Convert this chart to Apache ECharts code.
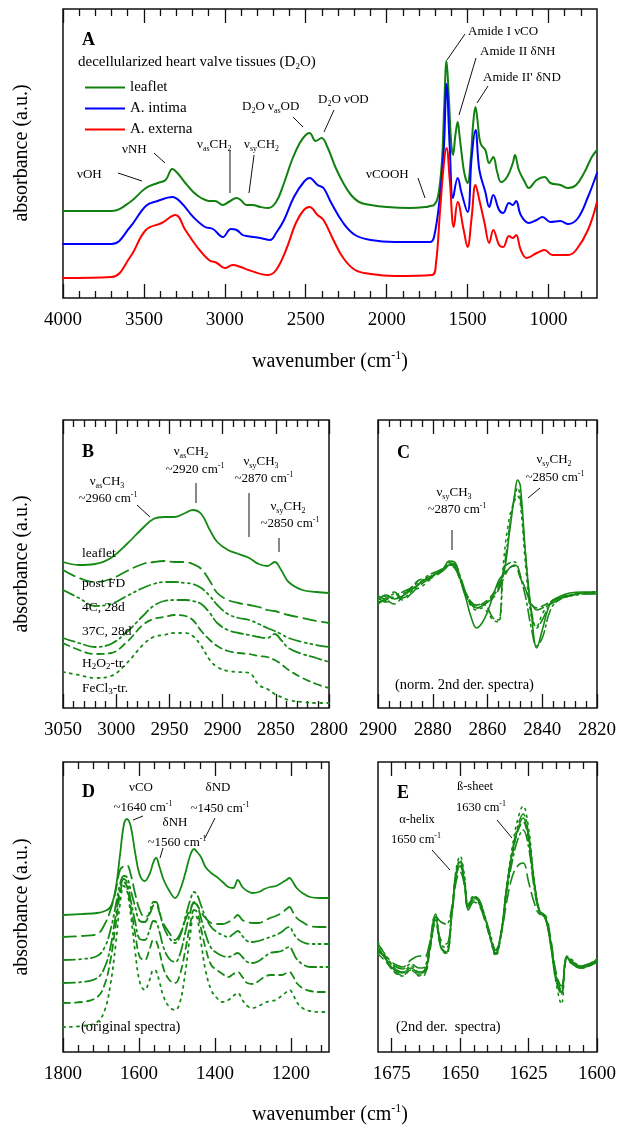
<!DOCTYPE html>
<html>
<head>
<meta charset="utf-8">
<script src="https://cdn.jsdelivr.net/npm/echarts@6/dist/echarts.min.js"></script>
<style>
  html, body { margin: 0; padding: 0; background: #fff; }
  #chart { width: 618px; height: 1128px; }
</style>
</head>
<body>
<div id="chart"></div>
<script>
var FONT = '"Liberation Serif", "Times New Roman", serif';
var GREEN = '#148a14';

// ---- panel A: whole spectra (absorbance, a.u., offset) ----
var wnLeafletA = [4000,3700,3585,3488,3415,3366,3324,3293,3244,3195,3146,3098,3061,3012,2976,2927,2902,2866,2829,2780,2732,2683,2634,2585,2537,2500,2476,2439,2402,2366,2317,2268,2220,2171,2098,2000,1854,1756,1732,1707,1683,1659,1645,1630,1615,1600,1590,1575,1561,1550,1537,1520,1500,1480,1465,1451,1440,1427,1415,1390,1366,1341,1317,1293,1256,1220,1207,1183,1146,1122,1073,1024,988,927,878,829,780,732,700];
var absLeafletA = [87,87,96,110,115,118,129,125,115,106,100,97,97,93,96,100,98,93,93,91,90,96,115,138,155,163,165,157,160,151,131,115,103,96,93,91,90,91,92,93,101,135,188,237,198,153,143,163,176,163,145,125,115,140,175,191,180,160,153,148,135,141,126,116,121,135,143,128,116,110,118,121,115,113,110,113,125,141,148];

var wnIntimaA = [4000,3700,3585,3488,3415,3324,3268,3195,3122,3073,3012,2963,2927,2890,2866,2780,2720,2683,2634,2573,2512,2476,2427,2390,2342,2268,2195,2098,1951,1732,1707,1671,1646,1630,1610,1590,1561,1537,1500,1475,1451,1427,1390,1366,1341,1305,1280,1244,1220,1200,1171,1122,1073,1037,988,927,878,817,756,700];
var absIntimaA = [54,54,71,92,97,101,95,81,71,69,61,69,68,63,62,60,58,65,78,101,116,120,113,110,95,75,63,58,56,56,61,101,151,214,151,100,120,105,86,140,168,128,106,91,103,88,85,95,93,97,83,75,78,81,76,77,74,80,101,125];

var wnExternaA = [4000,3700,3585,3488,3390,3305,3244,3171,3098,3049,3000,2951,2902,2854,2732,2683,2622,2561,2512,2476,2427,2390,2329,2268,2195,2098,1951,1720,1695,1671,1646,1630,1610,1585,1561,1524,1500,1475,1451,1427,1395,1366,1341,1305,1280,1244,1220,1200,1171,1134,1073,1024,976,878,829,756,700];
var absExternaA = [20,21,41,68,75,83,68,51,38,35,30,33,31,28,23,28,48,75,88,91,83,78,58,40,28,24,22,23,35,85,135,150,118,71,96,68,51,80,113,98,75,55,68,53,51,62,60,63,48,40,45,48,43,43,48,68,96];

// ---- panel B: CH stretching region ----
var wnB = [3050,3035,3020,3005,2990,2975,2965,2955,2945,2935,2928,2920,2912,2905,2895,2885,2875,2866,2858,2851,2845,2838,2825,2812,2800];
var leafletB = [146,143,144,150,164,180,189,191,191,195,198,194,178,166,158,154,150,144,142,146,138,126,118,116,115];
var postFdB  = [138,130,126,129,137,144,146,147,146,146,144,139,127,115,108,105,103,101,98,97,95,93,90,87,85];
var c4B      = [118,110,102,104,112,120,124,126,126,125,124,120,112,103,94,90,88,84,80,77,74,70,66,63,61];
var c37B     = [70,65,61,64,76,92,102,107,108,108,107,104,95,85,78,75,73,71,70,74,68,60,54,50,46];
var h2o2B    = [65,58,54,55,66,83,89,91,93,92,88,77,68,62,57,55,54,52,51,48,44,38,30,24,20];
var fecl3B   = [36,33,30,32,45,63,71,73,75,75,72,62,48,41,37,36,35,23,19,14,11,8,6,5,5];

// ---- panel C: normalised 2nd derivative, CH region ----
var wnC = [2900,2897,2894,2891,2888,2885,2882,2879,2876,2874,2872,2870,2868,2866,2864,2862,2860,2858,2856,2854,2852,2850,2849,2848,2846,2844,2842,2840,2837,2834,2830,2825,2820];
var leafletC = [108,113,109,112,118,124,130,134,140,147,146,130,111,91,80,85,96,112,127,136,175,215,228,222,150,95,60,78,105,111,115,116,116];
var postFdC  = [104,110,116,108,114,122,128,132,138,142,140,128,112,104,100,102,106,110,118,130,140,142,138,130,118,106,98,100,104,108,112,114,114];
var c4C      = [110,106,112,116,120,126,128,134,138,144,142,128,114,104,100,102,106,112,120,140,180,212,220,210,150,98,80,88,104,110,112,114,115];
var c37C     = [106,108,114,110,116,124,132,136,140,145,144,132,116,106,103,104,100,90,88,140,145,146,142,132,110,80,62,70,98,108,112,115,116];
var h2o2C    = [112,108,104,112,120,128,130,134,138,143,141,130,116,106,102,104,108,114,124,134,140,143,140,132,118,104,100,102,106,110,113,115,115];
var fecl3C   = [108,112,110,114,118,120,126,134,140,146,144,130,114,102,98,100,96,88,86,150,190,208,212,204,140,92,82,94,106,110,113,115,116];

// ---- panel D: amide region, original spectra ----
var wnD = [1800,1750,1710,1690,1675,1662,1650,1640,1632,1622,1610,1598,1585,1572,1562,1555,1546,1535,1520,1505,1492,1478,1465,1455,1447,1437,1425,1410,1395,1380,1365,1352,1340,1328,1315,1300,1285,1270,1255,1240,1225,1212,1204,1195,1185,1170,1150,1125,1100];
var leafletD = [137,138,139,141,145,162,197,227,233,226,199,177,171,178,190,194,185,172,161,154,162,179,197,203,200,195,185,179,175,170,165,164,172,165,161,159,160,163,165,166,169,172,174,170,164,159,155,154,154];
var postFdD  = [115,116,118,128,142,160,182,186,187,178,158,142,135,138,147,148,139,128,119,112,118,132,143,149,147,140,134,129,128,128,130,133,137,132,130,129,129,131,134,136,139,143,145,140,134,130,126,125,125];
var c4D      = [92,93,96,105,122,145,168,176,175,162,145,131,130,140,150,150,140,125,114,109,116,135,152,160,157,147,135,125,120,117,115,118,121,116,111,110,111,113,115,117,120,124,125,120,114,110,108,108,108];
var c37D     = [69,70,74,85,105,135,163,173,170,152,130,113,112,122,131,130,120,104,93,90,98,120,140,150,147,134,118,104,99,96,95,97,99,95,90,89,91,95,99,100,101,104,105,100,93,88,85,85,85];
var h2o2D    = [49,50,55,68,92,125,158,170,166,145,118,95,92,103,112,111,100,83,72,69,78,102,128,142,140,124,104,87,82,78,75,78,80,75,69,68,71,75,77,77,77,79,80,76,69,64,61,60,60];
var fecl3D   = [25,26,30,42,68,105,148,166,162,138,100,70,62,72,82,81,70,55,45,42,50,80,118,137,134,110,82,62,54,50,52,56,59,52,46,44,46,49,51,52,56,60,62,58,50,44,41,40,40];

// ---- panel E: amide I, 2nd derivative ----
var wnE = [1680,1677,1674,1671,1668,1665,1663,1661,1659,1657,1655,1653,1651.5,1650,1648.5,1647,1645,1643,1641,1639,1637,1635,1633,1631,1629,1627,1625,1623,1621,1619,1617,1615,1613,1611,1609,1606,1603,1600];
var leafletE = [105,92,82,79,84,79,80,105,135,105,100,140,178,190,172,145,155,150,135,115,99,120,165,198,222,234,215,170,140,135,110,75,60,95,90,85,87,92];
var postFdE  = [100,95,88,85,92,96,95,110,128,112,108,138,170,180,168,142,150,146,132,115,102,118,150,175,186,189,170,150,138,137,115,80,66,92,88,84,86,90];
var c4E      = [108,96,84,80,86,80,82,108,138,108,104,142,180,192,175,148,156,152,136,116,98,118,164,200,225,238,218,172,142,136,108,72,58,96,92,86,88,93];
var c37E     = [102,94,86,83,88,84,85,110,136,130,128,145,176,186,170,146,154,150,136,118,102,120,160,190,212,222,205,165,140,136,112,78,62,94,90,86,88,92];
var h2o2E    = [98,90,80,77,82,77,78,102,132,104,99,138,176,186,170,143,152,148,133,114,98,118,162,196,220,230,212,168,140,134,110,74,58,93,89,84,86,90];
var fecl3E   = [110,94,80,76,82,76,77,104,136,104,98,140,182,196,178,146,154,150,134,113,96,119,166,204,232,246,224,174,142,135,108,70,48,94,88,84,86,91];

// tick labels
var ticksA = [4000,3500,3000,2500,2000,1500,1000];
var ticksB = [3050,3000,2950,2900,2850,2800];
var ticksC = [2900,2880,2860,2840,2820];
var ticksD = [1800,1600,1400,1200];
var ticksE = [1675,1650,1625,1600];

var sampleNames = ['leaflet', 'post FD', '4C, 28d', '37C, 28d', 'H2O2-tr.', 'FeCl3-tr.'];
var dashes = ['solid', [13,6], [12,4,2,4,2,4], [12,4,2,4], [7,5], [2,5]];

var panels = [
  {left:63,  top:9,   width:534, height:289, min:700,  max:4000, labels:ticksA, step:100, from:800,  to:3900},
  {left:63,  top:420, width:266, height:288, min:2800, max:3050, labels:ticksB, step:10,  from:2800, to:3050},
  {left:378, top:420, width:219, height:288, min:2820, max:2900, labels:ticksC, step:4,   from:2820, to:2900},
  {left:63,  top:762, width:266, height:290, min:1100, max:1800, labels:ticksD, step:40,  from:1120, to:1800},
  {left:378, top:762, width:219, height:290, min:1600, max:1680, labels:ticksE, step:5,   from:1600, to:1675}
];

function zip(xs, ys) { return xs.map(function (x, i) { return [x, ys[i]]; }); }

var grids = [], xAxes = [], yAxes = [], series = [];
panels.forEach(function (p, gi) {
  grids.push({left: p.left, top: p.top, width: p.width, height: p.height, show: true,
    borderColor: '#111', borderWidth: 1.5, backgroundColor: 'transparent', outerBoundsMode: 'none'});
  var minors = [];
  for (var v = p.from; v <= p.to + 1e-9; v += p.step) {
    if (p.labels.indexOf(v) < 0) minors.push(v);
  }
  p.xIndex = xAxes.length;
  [['bottom', p.labels, 14, true], ['bottom', minors, 7, false],
   ['top', p.labels, 14, false], ['top', minors, 7, false]].forEach(function (c) {
    xAxes.push({
      type: 'value', gridIndex: gi, position: c[0], min: p.min, max: p.max, inverse: true,
      axisLine: {show: false}, splitLine: {show: false},
      axisTick: {show: true, inside: true, length: c[2], customValues: c[1],
        lineStyle: {color: '#111', width: 1.3}},
      axisLabel: {show: c[3], customValues: p.labels, margin: 13,
        formatter: function (val) { return String(val); },
        fontFamily: FONT, fontSize: 19, color: '#000'}
    });
  });
  yAxes.push({type: 'value', gridIndex: gi, min: 0, max: p.height, show: false});
});

function addLine(gi, name, xs, ys, color, width, dash) {
  series.push({
    type: 'line', name: name, xAxisIndex: panels[gi].xIndex, yAxisIndex: gi,
    data: zip(xs, ys), symbol: 'none', smooth: 0.4, silent: true,
    itemStyle: {color: color},
    lineStyle: {color: color, width: width, type: dash, cap: 'round'}
  });
}

addLine(0, 'leaflet', wnLeafletA, absLeafletA, '#118011', 2, 'solid');
addLine(0, 'A. intima', wnIntimaA, absIntimaA, '#0000ff', 2, 'solid');
addLine(0, 'A. externa', wnExternaA, absExternaA, '#ff0000', 2, 'solid');

[leafletB, postFdB, c4B, c37B, h2o2B, fecl3B].forEach(function (d, i) {
  addLine(1, 'B ' + sampleNames[i], wnB, d, GREEN, 1.8, dashes[i]);
});
[leafletC, postFdC, c4C, c37C, h2o2C, fecl3C].forEach(function (d, i) {
  addLine(2, 'C ' + sampleNames[i], wnC, d, GREEN, 1.6, dashes[i]);
});
[leafletD, postFdD, c4D, c37D, h2o2D, fecl3D].forEach(function (d, i) {
  addLine(3, 'D ' + sampleNames[i], wnD, d, GREEN, 1.8, dashes[i]);
});
[leafletE, postFdE, c4E, c37E, h2o2E, fecl3E].forEach(function (d, i) {
  addLine(4, 'E ' + sampleNames[i], wnE, d, GREEN, 1.6, dashes[i]);
});

// ---- annotations ----
function rich(size) {
  var small = Math.round(size * 0.62);
  return {
    s: {fontSize: small, fontFamily: FONT, fill: '#000', lineHeight: Math.round(size * 0.4), verticalAlign: 'bottom'},
    u: {fontSize: small, fontFamily: FONT, fill: '#000', lineHeight: Math.round(size * 0.4), verticalAlign: 'top'},
    m: {fontSize: small + 1, fontFamily: FONT, fill: '#000', lineHeight: Math.round(size * 0.8), verticalAlign: 'bottom'}
  };
}
function txt(x, y, text, size, align, extra) {
  var el = {type: 'text', x: x, y: y, silent: true, z: 10,
    style: {text: text, fontFamily: FONT, fontSize: size, fill: '#000',
      align: align || 'left', verticalAlign: 'middle', lineHeight: Math.round(size * 1.25), rich: rich(size)}};
  if (extra) for (var k in extra) el[k] = extra[k];
  return el;
}
function bold(x, y, text) {
  var el = txt(x, y, text, 18, 'left');
  el.style.fontWeight = 'bold';
  return el;
}
function seg(x1, y1, x2, y2) {
  return {type: 'line', silent: true, z: 10, shape: {x1: x1, y1: y1, x2: x2, y2: y2},
    style: {stroke: '#111', lineWidth: 1}};
}

var graphics = [
  // panel A
  bold(82, 40, 'A'),
  txt(78, 62, 'decellularized heart valve tissues (D{s|2}O)', 15),
  txt(77, 175, 'νOH', 13), seg(118, 173, 142, 181),
  txt(122, 150, 'νNH', 13), seg(154, 153, 165, 163),
  txt(197, 145, 'ν{s|as}CH{s|2}', 13), seg(230, 151, 230, 193),
  txt(244, 145, 'ν{s|sy}CH{s|2}', 13), seg(254, 155, 249, 193),
  txt(242, 107, 'D{s|2}O ν{s|as}OD', 13), seg(293, 117, 303, 127),
  txt(318, 100, 'D{s|2}O νOD', 13), seg(334, 110, 324, 132),
  txt(366, 175, 'νCOOH', 13), seg(418, 178, 425, 198),
  txt(468, 32, 'Amide I νCO', 13), seg(465, 34, 447, 60),
  txt(480, 52, 'Amide II δNH', 13), seg(476, 58, 459, 115),
  txt(483, 78, "Amide II' δND", 13), seg(488, 86, 477, 103),
  // panel B
  bold(82, 452, 'B'),
  txt(107, 482, 'ν{s|as}CH{s|3}', 13, 'center'), txt(108, 499, '~2960 cm{u|-1}', 13, 'center'), seg(137, 505, 150, 517),
  txt(191, 452, 'ν{s|as}CH{s|2}', 13, 'center'), txt(195, 470, '~2920 cm{u|-1}', 13, 'center'), seg(196, 483, 196, 503),
  txt(261, 462, 'ν{s|sy}CH{s|3}', 13, 'center'), txt(264, 479, '~2870 cm{u|-1}', 13, 'center'), seg(249, 493, 249, 537),
  txt(288, 507, 'ν{s|sy}CH{s|2}', 13, 'center'), txt(290, 524, '~2850 cm{u|-1}', 13, 'center'), seg(279, 538, 279, 552),
  txt(82, 553, 'leaflet', 13.5), txt(82, 583, 'post FD', 13.5), txt(82, 607, '4C, 28d', 13.5),
  txt(82, 631, '37C, 28d', 13.5), txt(82, 663, 'H{m|2}O{m|2}-tr.', 13.5), txt(82, 688, 'FeCl{m|3}-tr.', 13.5),
  // panel C
  bold(397, 453, 'C'),
  txt(454, 493, 'ν{s|sy}CH{s|3}', 13, 'center'), txt(457, 510, '~2870 cm{u|-1}', 13, 'center'), seg(452, 530, 452, 550),
  txt(554, 460, 'ν{s|sy}CH{s|2}', 13, 'center'), txt(555, 478, '~2850 cm{u|-1}', 13, 'center'), seg(540, 488, 528, 498),
  txt(395, 685, '(norm. 2nd der. spectra)', 14.5),
  // panel D
  bold(82, 792, 'D'),
  txt(141, 788, 'νCO', 13, 'center'), txt(143, 808, '~1640 cm{u|-1}', 13, 'center'), seg(133, 820, 143, 816),
  txt(175, 823, 'δNH', 13, 'center'), txt(177, 843, '~1560 cm{u|-1}', 13, 'center'), seg(163, 848, 160, 858),
  txt(218, 788, 'δND', 13, 'center'), txt(220, 809, '~1450 cm{u|-1}', 13, 'center'), seg(215, 818, 205, 838),
  txt(81, 1027, '(original spectra)', 14.5),
  // panel E
  bold(397, 793, 'E'),
  txt(475, 787, 'ß-sheet', 12.5, 'center'), txt(481, 808, '1630 cm{u|-1}', 12.5, 'center'), seg(497, 820, 512, 838),
  txt(417, 820, 'α-helix', 12.5, 'center'), txt(416, 840, '1650 cm{u|-1}', 12.5, 'center'), seg(432, 850, 450, 870),
  txt(396, 1027, '(2nd der.  spectra)', 14.5),
  // axis titles
  txt(22, 153, 'absorbance (a.u.)', 20, 'center', {rotation: Math.PI / 2}),
  txt(22, 564, 'absorbance (a.u.)', 20, 'center', {rotation: Math.PI / 2}),
  txt(22, 907, 'absorbance (a.u.)', 20, 'center', {rotation: Math.PI / 2}),
  txt(330, 362, 'wavenumber (cm{u|-1})', 20, 'center'),
  txt(330, 1115, 'wavenumber (cm{u|-1})', 20, 'center')
];

var chart = echarts.init(document.getElementById('chart'), null, {renderer: 'canvas'});
chart.setOption({
  animation: false,
  backgroundColor: '#fff',
  textStyle: {fontFamily: FONT},
  grid: grids,
  xAxis: xAxes,
  yAxis: yAxes,
  legend: {
    data: ['leaflet', 'A. intima', 'A. externa'],
    orient: 'vertical', left: 80, top: 75, itemWidth: 40, itemHeight: 2, itemGap: 6,
    icon: 'rect', selectedMode: false,
    textStyle: {fontFamily: FONT, fontSize: 15, color: '#000', lineHeight: 14}
  },
  series: series,
  graphic: graphics
});
</script>
</body>
</html>
